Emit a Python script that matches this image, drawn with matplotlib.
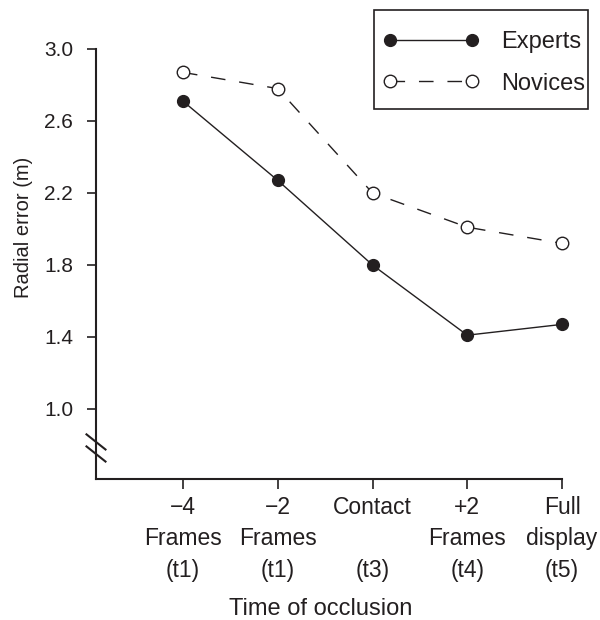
import matplotlib
matplotlib.use("Agg")
import matplotlib.pyplot as plt
from matplotlib.patches import Rectangle

plt.rcParams['font.family'] = ['Liberation Sans', 'DejaVu Sans']

# Radial error by occlusion condition
positions = [1, 2, 3, 4, 5]
tick_labels = ["\u22124\nFrames\n(t1)", "\u22122\nFrames\n(t1)", "Contact\n\n(t3)",
               "+2\nFrames\n(t4)", "Full\ndisplay\n(t5)"]
experts = [2.71, 2.27, 1.80, 1.41, 1.47]
novices = [2.87, 2.78, 2.20, 2.01, 1.92]
y_ticks = [1.0, 1.4, 1.8, 2.2, 2.6, 3.0]

ink = "#231f20"

fig = plt.figure(figsize=(6.0, 6.2), dpi=100)
ax = fig.add_axes([0.16, 0.2274, 0.7767, 0.6936])

ax.plot(positions, experts, color=ink, lw=1.0, marker="o", ms=8.5,
        mfc=ink, mec=ink, clip_on=False, zorder=3, label="Experts")
ax.plot(positions, novices, color=ink, lw=1.0, dashes=(10.5, 10), marker="o",
        ms=9, mfc="white", mec=ink, mew=1.0, clip_on=False, zorder=3,
        label="Novices")

ax.set_xlim(0.082, 5.0)
ax.set_ylim(0.611, 3.0)

ax.set_xticks(positions)
ax.set_xticklabels(tick_labels, fontsize=16.5, linespacing=1.47, color=ink)
ax.set_yticks(y_ticks)
ax.set_yticklabels([f"{v:.1f}" for v in y_ticks], fontsize=15, color=ink)

for side in ("top", "right"):
    ax.spines[side].set_visible(False)
for side in ("left", "bottom"):
    ax.spines[side].set_linewidth(1.5)
    ax.spines[side].set_color(ink)

ax.tick_params(axis="y", direction="out", length=6.5, width=1.2, pad=10, colors=ink)
ax.tick_params(axis="x", direction="out", length=7.5, width=1.2, pad=4.5, colors=ink)

ax.set_ylabel("Radial error (m)", fontsize=14.5, color=ink)
ax.yaxis.set_label_coords(-0.135, 0.584)
ax.set_xlabel("Time of occlusion", fontsize=17, color=ink)
ax.xaxis.set_label_coords(0.483, -0.276)

# axis break marks on the y axis
trans = ax.get_yaxis_transform()
for yc in (0.817, 0.750):
    ax.plot([-0.0204, 0.0204], [yc + 0.042, yc - 0.042], color=ink, lw=1.5,
            transform=trans, clip_on=False, zorder=4)

# legend content, with its own rectangular frame
leg = ax.legend(loc="upper left", bbox_to_anchor=(383 / 600, 1 - 31 / 620),
                bbox_transform=fig.transFigure, fontsize=17, frameon=False,
                numpoints=2, handlelength=4.07, handletextpad=0.93,
                labelspacing=0.83, borderpad=0, borderaxespad=0)
for t in leg.get_texts():
    t.set_color(ink)
fig.add_artist(Rectangle((374 / 600, 1 - 109 / 620), 214 / 600, 99 / 620,
                         transform=fig.transFigure, fill=False, lw=1.2,
                         ec=ink, zorder=5))

fig.savefig("out.png", dpi=100)
